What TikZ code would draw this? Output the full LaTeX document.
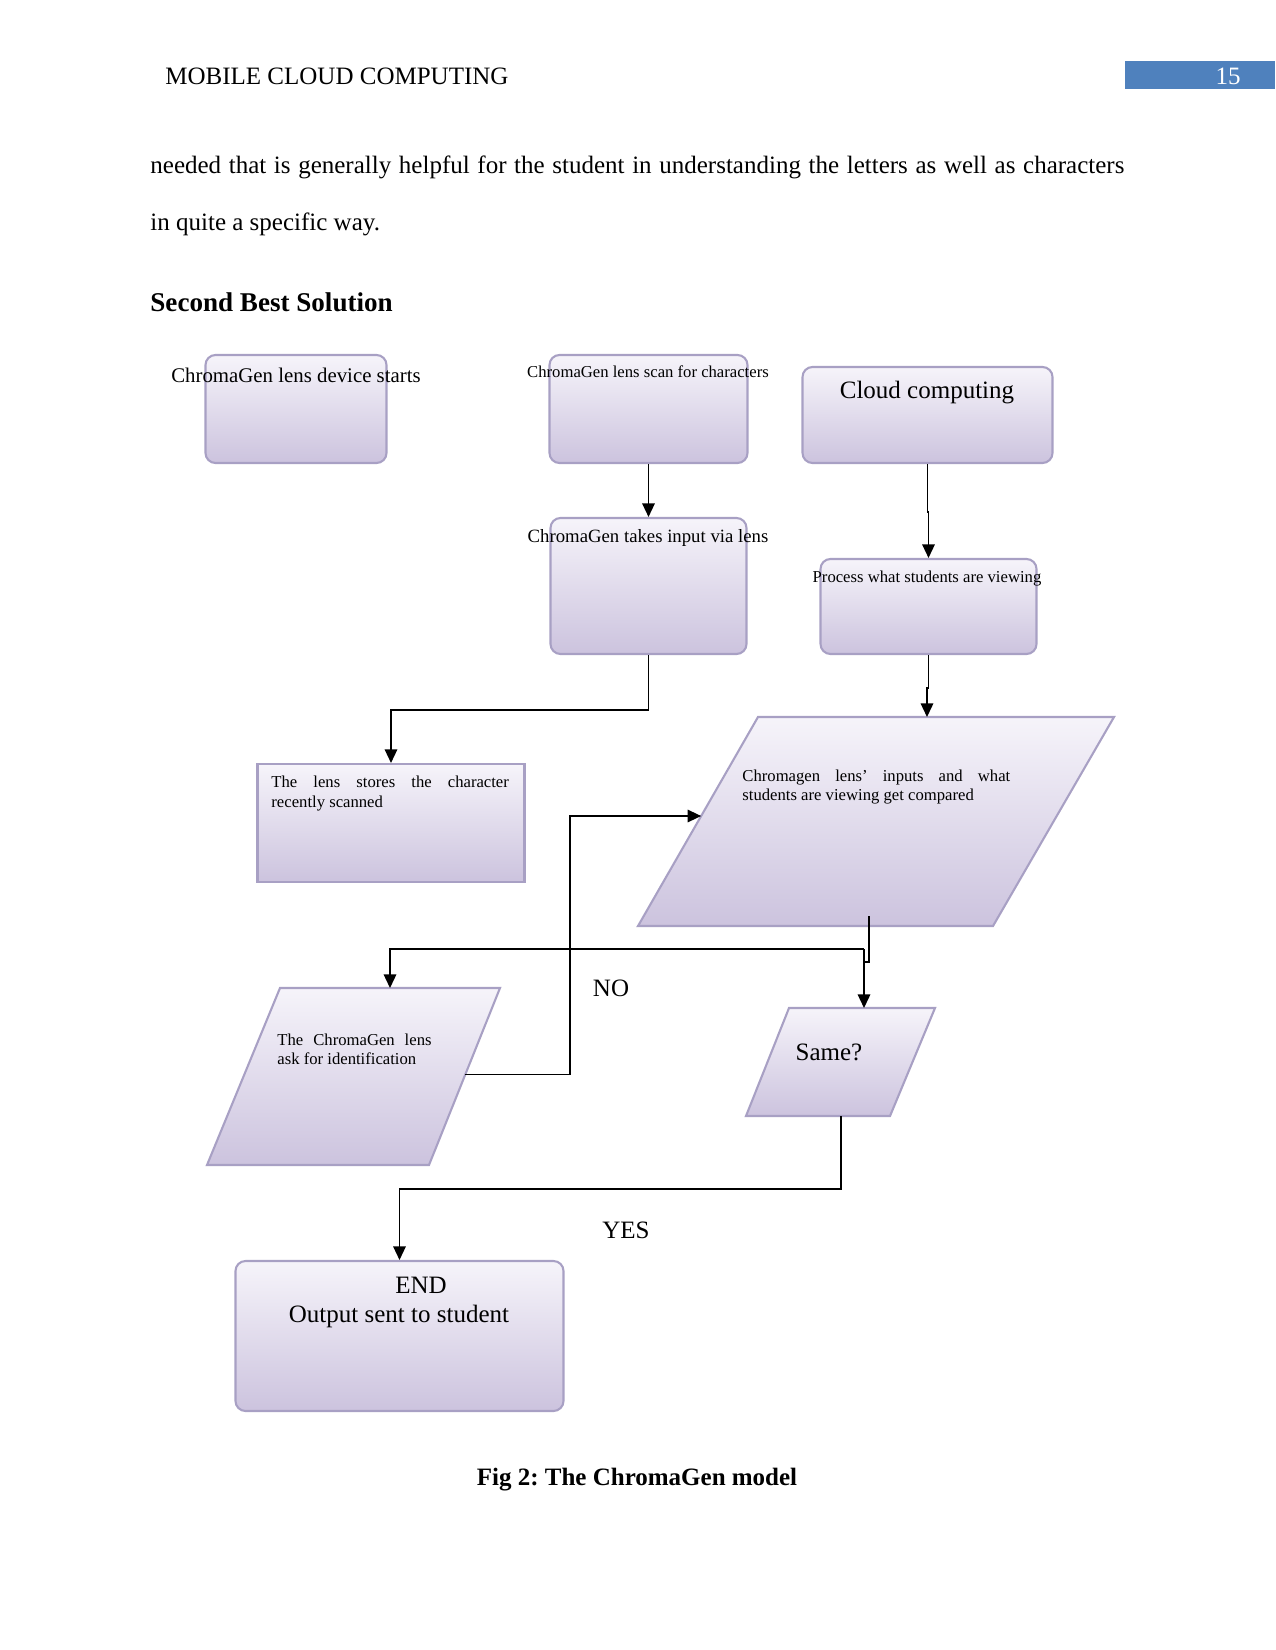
\documentclass[tikz,border=0pt]{standalone}
\usepackage{fontspec}
\setmainfont{Liberation Serif}
\frenchspacing
\usetikzlibrary{arrows.meta,calc}
\definecolor{boxtop}{RGB}{246,244,250}
\definecolor{boxbot}{RGB}{204,195,222}
\definecolor{boxline}{RGB}{168,160,196}
\definecolor{hdrblue}{RGB}{79,129,189}
\begin{document}
\frenchspacing
\begin{tikzpicture}[x=0.48pt,y=-0.48pt,
  fbox/.style={draw=boxline, line width=1pt, top color=boxtop, bottom color=boxbot, rounded corners=4.8pt, inner sep=0pt},
  para/.style={draw=boxline, line width=1pt, top color=boxtop, bottom color=boxbot},
  sz/.style 2 args={minimum width=#1*0.48pt, minimum height=#2*0.48pt},
  arr/.style={-{Triangle[length=6.5pt,width=6pt]}, line width=0.7pt},
  conn/.style={line width=0.7pt},
  txt/.style={inner sep=0pt, anchor=base},
  f8/.style={font=\fontsize{8}{9.6}\selectfont},
  f9/.style={font=\fontsize{9}{11}\selectfont},
  f10/.style={font=\fontsize{10}{12}\selectfont},
  f12/.style={font=\fontsize{12}{14}\selectfont}]
\useasboundingbox (0,0) rectangle (1275,1650);
\fill[white] (0,0) rectangle (1275,1650);

% header
\node[txt, anchor=base west, f12] (hdr) at (165,85) {MOBILE CLOUD COMPUTING};
\node[fill=hdrblue, inner sep=0pt, sz={150}{28}] (pg) at (1200,75) {};
\node[txt, f12, text=white] (pgnum) at (1228,85) {15};

% body
\node[txt, anchor=base west, f12] (l1) at (150,174) {\makebox[467.5pt][s]{needed that is generally helpful for the student in understanding the letters as well as characters}};
\node[txt, anchor=base west, f12] (l2) at (150,231) {in quite a specific way.};
\node[txt, anchor=base west, font=\fontsize{13}{15}\selectfont\bfseries] (head) at (150,312) {Second Best Solution};

% boxes
\node[fbox, sz={181}{108}] (A) at (296,409) {};
\node[fbox, sz={198}{108}] (B) at (648.5,409) {};
\node[fbox, sz={250}{96}] (C) at (927.5,415) {};
\node[fbox, sz={196}{136}] (D) at (648.5,586) {};
\node[fbox, sz={216}{95}] (E) at (928.5,606.5) {};
\node[fbox, sharp corners, sz={267}{118}] (F) at (391,823) {};
\node[fbox, sz={328}{150}] (J) at (399.5,1336) {};

% parallelograms
\coordinate (G1) at (758,717); \coordinate (G2) at (1114,717);
\coordinate (G3) at (993,926); \coordinate (G4) at (638,926);
\path[para] (G1) -- (G2) -- (G3) -- (G4) -- cycle;
\coordinate (H1) at (280,988); \coordinate (H2) at (500,988);
\coordinate (H3) at (429,1165); \coordinate (H4) at (207,1165);
\path[para] (H1) -- (H2) -- (H3) -- (H4) -- cycle;
\coordinate (I1) at (789,1008); \coordinate (I2) at (935,1008);
\coordinate (I3) at (890,1116); \coordinate (I4) at (746,1116);
\path[para] (I1) -- (I2) -- (I3) -- (I4) -- cycle;

% texts in shapes
\node[txt, f10] (tA) at (296,383) {ChromaGen lens device starts};
\node[txt, f8] (tB) at (648,378) {ChromaGen lens scan for characters};
\node[txt, f12] (tC) at (927,399) {Cloud computing};
\node[txt, f9] (tD) at (648,542) {ChromaGen takes input via lens};
\node[txt, f8] (tE) at (927,582) {Process what students are viewing};
\node[txt, f8, anchor=base west] (tF1) at (271,787) {\makebox[114pt][s]{The lens stores the character}};
\node[txt, f8, anchor=base west] (tF2) at (271,807) {recently scanned};
\node[txt, f8, anchor=base west] (tG1) at (742,781) {\makebox[128.6pt][s]{Chromagen lens’ inputs and what}};
\node[txt, f8, anchor=base west] (tG2) at (742,800) {students are viewing get compared};
\node[txt, f8, anchor=base west] (tH1) at (277,1045) {\makebox[74pt][s]{The ChromaGen lens}};
\node[txt, f8, anchor=base west] (tH2) at (277,1064) {ask for identification};
\node[txt, f12] (tI) at (829,1060) {Same?};
\node[txt, f12] (tJ1) at (421,1293) {END};
\node[txt, f12] (tJ2) at (399,1322) {Output sent to student};
\node[txt, f12] (no) at (611,996) {NO};
\node[txt, f12] (yes) at (626,1238) {YES};

% caption
\node[txt, font=\fontsize{12}{14}\selectfont\bfseries] (cap) at (637,1485) {Fig 2: The ChromaGen model};

% connectors
\coordinate (Gin) at (927,717);
\coordinate (Gout) at (869,916);
\coordinate (Gl) at ($(G1)!0.4737!(G4)$);
\coordinate (Hr) at ($(H2)!0.49!(H3)$);
\coordinate (Htop) at (390,988);
\coordinate (Itop) at (864,1008);
\coordinate (Ibot) at (841,1116);
\coordinate (fork) at (864,949);

\draw[arr] (B.south) -- (D.north);
\draw[arr] (C.south) -- ++(0,48) -| (E.north);
\draw[arr] (D.south) -- ++(0,55) -| (F.north);
\draw[arr] (E.south) -- ++(0,33) -| (Gin);
\draw[conn] (Gout) -- ++(0,46) -| (fork);
\draw[arr] (fork) -- (Itop);
\draw[arr] (fork) -| (Htop);
\draw[arr] (Hr) -- ++(105,0) |- (Gl);
\draw[arr] (Ibot) -- ++(0,73) -| (J.north);
\end{tikzpicture}
\end{document}
